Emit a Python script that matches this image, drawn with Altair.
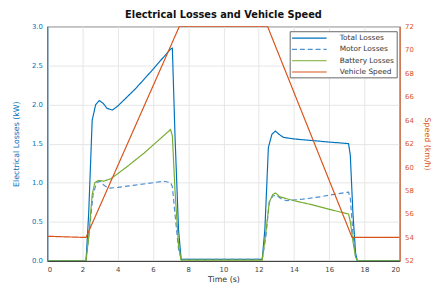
import altair as alt
import pandas as pd

# ---- data ----
total_t = [0, 2.2, 2.35, 2.55, 2.75, 2.95, 3.15, 3.4, 3.7, 4.0, 5.0, 6.0, 7.0, 7.1, 7.25, 7.45, 7.6, 8.0, 12.0, 12.2, 12.35, 12.55, 12.75, 12.95, 13.15, 13.4, 14.0, 15.0, 16.0, 17.1, 17.2, 17.35, 17.5, 17.6, 20]
total_v = [0, 0, 0.6, 1.8, 2.0, 2.05, 2.02, 1.95, 1.93, 1.98, 2.2, 2.45, 2.71, 2.72, 1.6, 0.4, 0.02, 0.02, 0.02, 0.02, 0.4, 1.45, 1.62, 1.66, 1.62, 1.58, 1.56, 1.54, 1.52, 1.5, 1.35, 0.6, 0.1, 0, 0]

motor_t = [0, 2.2, 2.35, 2.6, 2.8, 3.0, 3.2, 3.5, 4.0, 5.0, 6.0, 6.6, 7.0, 7.1, 7.25, 7.45, 7.6, 8.0, 12.0, 12.2, 12.4, 12.6, 12.8, 13.0, 13.3, 13.6, 14.5, 15.5, 16.5, 17.1, 17.2, 17.35, 17.5, 17.6, 20]
motor_v = [0, 0, 0.3, 0.85, 1.0, 1.02, 0.97, 0.93, 0.94, 0.97, 1.0, 1.02, 1.0, 0.95, 0.6, 0.15, 0.02, 0.02, 0.02, 0.02, 0.3, 0.75, 0.83, 0.84, 0.79, 0.77, 0.79, 0.82, 0.86, 0.88, 0.8, 0.35, 0.05, 0, 0]

battery_t = [0, 2.2, 2.35, 2.55, 2.7, 2.9, 3.2, 3.6, 4.5, 5.5, 6.5, 7.0, 7.1, 7.25, 7.45, 7.6, 8.0, 12.0, 12.2, 12.4, 12.6, 12.8, 12.95, 13.2, 14.0, 15.0, 16.0, 17.1, 17.2, 17.35, 17.5, 17.6, 20]
battery_v = [0, 0, 0.3, 0.85, 1.0, 1.03, 1.02, 1.05, 1.2, 1.38, 1.58, 1.68, 1.6, 0.9, 0.2, 0.01, 0.01, 0.01, 0.01, 0.35, 0.75, 0.85, 0.87, 0.82, 0.77, 0.72, 0.66, 0.6, 0.5, 0.25, 0.05, 0, 0]

speed_t = [0, 2.2, 7.5, 12.5, 17.3, 20]
speed_v = [54.1, 54.0, 72, 72, 54, 54]

series = ["Total Losses", "Motor Losses", "Battery Losses", "Vehicle Speed"]
colors = ["#0072BD", "#4D8FD1", "#77AC30", "#D95319"]
dashes = [[1, 0], [5, 3], [1, 0], [1, 0]]

x_ticks = list(range(0, 21, 2))
left_ticks = [0, 0.5, 1, 1.5, 2, 2.5, 3]
right_ticks = list(range(52, 73, 2))

# ---- tables ----
loss_rows = []
for name, ts, vs in [("Total Losses", total_t, total_v),
                     ("Motor Losses", motor_t, motor_v),
                     ("Battery Losses", battery_t, battery_v)]:
    for i, (t, v) in enumerate(zip(ts, vs)):
        loss_rows.append({"series": name, "t": t, "v": v, "i": i})
loss_df = pd.DataFrame(loss_rows)
speed_df = pd.DataFrame({"series": "Vehicle Speed", "t": speed_t, "s": speed_v,
                         "i": list(range(len(speed_t)))})

FONT = "DejaVu Sans"

legend_kw = dict(title=None, orient="none", legendX=247, legendY=5,
                 symbolType="M-4.4,0H4.4", symbolSize=64, symbolStrokeWidth=1.1,
                 symbolOffset=13, labelOffset=26,
                 labelFontSize=7.5, labelFont=FONT, labelColor="#333",
                 rowPadding=2.5, padding=2,
                 strokeColor="#666", fillColor="white")

color_enc = alt.Color("series:N", scale=alt.Scale(domain=series, range=colors),
                      legend=alt.Legend(**legend_kw))
dash_enc = alt.StrokeDash("series:N", scale=alt.Scale(domain=series, range=dashes),
                          legend=alt.Legend(**legend_kw))

xenc = alt.X("t:Q", scale=alt.Scale(domain=[0, 20], nice=False),
             axis=alt.Axis(values=x_ticks, title="Time (s)", grid=True, format="d",
                           labelPadding=5, titlePadding=3))

losses = alt.Chart(loss_df).mark_line(strokeWidth=1.2, clip=True).encode(
    x=xenc,
    y=alt.Y("v:Q", scale=alt.Scale(domain=[0, 3], nice=False),
            axis=alt.Axis(values=left_ticks, title="Electrical Losses (kW)", grid=True,
                          orient="left", domainColor="#0072BD", labelColor="#0072BD",
                          titleColor="#0072BD", labelPadding=5, titlePadding=11)),
    color=color_enc,
    strokeDash=dash_enc,
    order="i:Q",
)

speed = alt.Chart(speed_df).mark_line(strokeWidth=1.2, clip=True).encode(
    x=xenc,
    y=alt.Y("s:Q", scale=alt.Scale(domain=[52, 72], nice=False),
            axis=alt.Axis(values=right_ticks, title="Speed (km/h)", grid=False,
                          orient="right", domainColor="#D95319", labelColor="#D95319",
                          titleColor="#D95319", labelPadding=5, titlePadding=9)),
    color=color_enc,
    strokeDash=dash_enc,
    order="i:Q",
)

chart = alt.layer(losses, speed).resolve_scale(y="independent").properties(
    width=359, height=239,
    autosize=alt.AutoSizeParams(type="none"),
    padding={"left": 40, "top": 16, "right": 35, "bottom": 29},
    title=alt.Title("Electrical Losses and Vehicle Speed", fontSize=10, font=FONT,
                    fontWeight="bold", color="#111", offset=2),
).configure_view(stroke="#333", strokeWidth=1).configure_axis(
    labelFont=FONT, titleFont=FONT, labelFontSize=7, titleFontSize=8,
    titleFontWeight="normal",
    tickSize=0, gridColor="#e6e6e6", domainColor="#333",
    labelColor="#444", titleColor="#333",
)

chart.save("out.html", embed_options={"renderer": "svg", "actions": False})
